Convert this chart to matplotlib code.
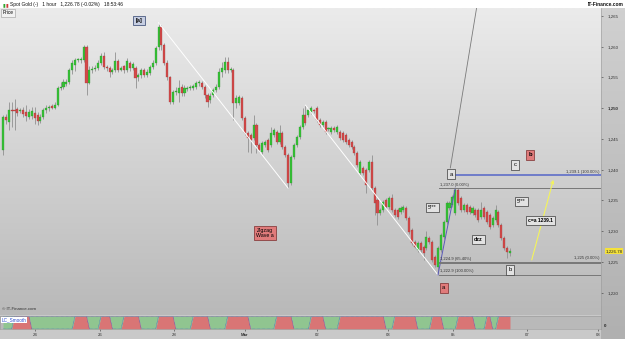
import matplotlib.pyplot as plt
import numpy as np
from matplotlib.colors import LinearSegmentedColormap
from matplotlib.patches import Rectangle

plt.rcParams['font.family'] = ['Liberation Sans', 'DejaVu Sans']

# Data: hourly Spot Gold candles
opens = [1243.2, 1248.6, 1247.8, 1249.7, 1249.6, 1249.8, 1249.6, 1249.7, 1249.4, 1248.6,
         1248.8, 1249.2, 1248.9, 1248.0, 1248.6, 1249.7, 1250.0, 1250.4, 1250.1, 1250.5,
         1253.3, 1253.5, 1254.0, 1254.3, 1256.2, 1257.0, 1257.8, 1257.8, 1257.8, 1260.0,
         1254.1, 1256.2, 1256.4, 1256.5, 1257.4, 1258.5, 1256.7, 1256.5, 1255.9, 1256.2,
         1257.7, 1256.2, 1256.8, 1256.2, 1257.4, 1256.5, 1256.5, 1255.1, 1255.4, 1256.2,
         1255.4, 1255.7, 1256.7, 1257.4, 1260.0, 1263.2, 1260.3, 1257.4, 1255.1, 1251.0,
         1252.6, 1252.5, 1253.5, 1252.5, 1253.1, 1253.3, 1253.3, 1253.5, 1254.1, 1254.1,
         1253.5, 1252.2, 1251.3, 1252.2, 1253.0, 1253.5, 1255.9, 1256.2, 1257.5, 1256.2,
         1256.2, 1250.9, 1250.9, 1251.7, 1248.4, 1246.0, 1245.7, 1245.2, 1247.3, 1244.0,
         1242.9, 1244.0, 1244.8, 1244.0, 1245.7, 1246.1, 1244.5, 1246.0, 1243.7, 1242.4,
         1237.9, 1242.1, 1244.0, 1245.3, 1247.0, 1248.9, 1248.9, 1249.4, 1249.6, 1250.0,
         1248.1, 1247.3, 1247.8, 1246.6, 1246.1, 1246.8, 1246.1, 1246.1, 1246.0, 1245.7,
         1244.8, 1244.5, 1243.7, 1242.7, 1239.5, 1240.3, 1240.0, 1240.0, 1241.3, 1237.0,
         1235.1, 1233.0, 1233.5, 1235.1, 1233.9, 1235.4, 1233.5, 1233.5, 1233.1, 1233.5,
         1233.8, 1232.2, 1230.2, 1228.3, 1227.0, 1228.1, 1227.5, 1227.3, 1228.9, 1228.3,
         1225.8, 1224.2, 1227.0, 1229.1, 1231.5, 1233.8, 1234.3, 1233.0, 1236.7, 1235.4,
         1233.5, 1234.3, 1233.9, 1233.0, 1233.5, 1233.5, 1232.3, 1233.8, 1233.1, 1232.6,
         1231.0, 1231.8, 1233.1, 1231.0, 1228.9, 1227.3, 1226.5]
closes = [1248.6, 1248.1, 1249.7, 1249.6, 1249.5, 1249.3, 1249.7, 1249.0, 1248.8, 1249.4,
          1249.6, 1248.4, 1248.0, 1248.6, 1249.7, 1250.0, 1250.2, 1250.1, 1250.5, 1253.3,
          1253.5, 1254.3, 1254.3, 1256.2, 1257.4, 1257.8, 1257.9, 1258.0, 1260.0, 1254.1,
          1256.2, 1256.4, 1256.6, 1257.4, 1258.5, 1256.7, 1256.5, 1255.9, 1256.2, 1257.7,
          1256.2, 1256.5, 1256.2, 1257.7, 1256.5, 1257.2, 1254.9, 1255.4, 1256.2, 1255.4,
          1255.9, 1256.7, 1257.4, 1259.8, 1263.2, 1260.3, 1257.4, 1255.1, 1251.0, 1252.6,
          1252.8, 1253.3, 1252.5, 1253.3, 1253.2, 1253.4, 1253.6, 1254.1, 1254.2, 1253.5,
          1252.2, 1251.0, 1252.0, 1253.0, 1253.5, 1255.9, 1256.5, 1257.5, 1256.2, 1256.3,
          1250.9, 1251.7, 1251.8, 1248.4, 1246.0, 1245.2, 1244.8, 1247.3, 1244.0, 1243.2,
          1244.4, 1244.5, 1243.2, 1246.0, 1246.5, 1244.5, 1246.0, 1243.7, 1242.4, 1237.9,
          1242.1, 1244.0, 1245.3, 1247.0, 1248.9, 1247.6, 1249.7, 1250.0, 1249.5, 1248.1,
          1247.3, 1247.8, 1246.1, 1246.7, 1246.8, 1246.5, 1247.0, 1245.2, 1244.8, 1244.5,
          1244.0, 1243.7, 1242.7, 1240.8, 1241.3, 1239.5, 1237.5, 1241.3, 1237.0, 1234.6,
          1233.0, 1233.5, 1234.8, 1233.9, 1235.4, 1233.5, 1232.6, 1232.3, 1233.8, 1234.0,
          1232.2, 1229.9, 1228.1, 1227.5, 1228.1, 1227.0, 1226.5, 1229.1, 1228.3, 1225.3,
          1224.5, 1227.3, 1229.4, 1231.5, 1234.6, 1234.6, 1235.6, 1236.7, 1234.6, 1233.5,
          1234.3, 1233.1, 1233.1, 1233.8, 1232.6, 1231.8, 1233.5, 1232.3, 1231.5, 1230.7,
          1232.2, 1233.5, 1231.0, 1228.9, 1227.3, 1226.6, 1226.8]
highs = [1248.9, 1249.0, 1251.0, 1251.0, 1251.5, 1250.2, 1250.1, 1250.2, 1250.5, 1249.9,
         1250.2, 1250.2, 1249.4, 1249.0, 1250.1, 1250.5, 1250.6, 1250.7, 1251.0, 1253.6,
         1254.3, 1254.8, 1254.7, 1256.5, 1257.9, 1258.2, 1258.2, 1258.4, 1260.3, 1260.3,
         1256.9, 1256.8, 1257.0, 1257.8, 1259.0, 1259.2, 1257.0, 1256.8, 1256.6, 1259.1,
         1258.0, 1256.9, 1257.1, 1258.1, 1257.7, 1257.5, 1256.8, 1255.8, 1256.6, 1256.6,
         1256.3, 1257.0, 1257.8, 1260.1, 1263.9, 1263.5, 1260.6, 1257.8, 1255.3, 1252.9,
         1253.5, 1254.6, 1254.0, 1253.7, 1253.6, 1253.7, 1254.0, 1254.5, 1254.6, 1254.4,
         1253.8, 1252.5, 1252.4, 1253.3, 1253.9, 1256.6, 1257.5, 1258.3, 1258.3, 1256.7,
         1256.5, 1252.1, 1252.2, 1252.0, 1248.7, 1246.3, 1246.0, 1248.9, 1247.6, 1244.3,
         1244.7, 1244.9, 1245.1, 1247.0, 1246.8, 1246.4, 1247.3, 1246.3, 1244.0, 1242.7,
         1242.4, 1244.3, 1245.6, 1247.3, 1250.0, 1250.5, 1250.0, 1250.3, 1249.9, 1250.3,
         1248.4, 1248.1, 1248.1, 1247.0, 1247.1, 1247.1, 1247.3, 1246.4, 1246.3, 1246.0,
         1245.1, 1244.8, 1244.0, 1243.0, 1241.6, 1240.6, 1240.3, 1241.6, 1242.4, 1237.3,
         1235.4, 1233.8, 1235.1, 1235.4, 1235.7, 1236.0, 1233.8, 1233.8, 1234.1, 1234.3,
         1234.1, 1232.5, 1230.5, 1228.6, 1228.4, 1228.4, 1227.8, 1230.0, 1229.2, 1228.6,
         1226.1, 1227.6, 1229.7, 1231.8, 1234.9, 1234.9, 1235.9, 1237.0, 1237.0, 1235.7,
         1234.6, 1234.6, 1234.2, 1234.1, 1233.8, 1233.8, 1234.8, 1234.1, 1233.4, 1232.9,
         1232.5, 1234.3, 1233.4, 1231.3, 1229.2, 1227.6, 1227.3]
lows = [1242.4, 1247.4, 1246.5, 1247.0, 1246.5, 1248.8, 1249.2, 1248.6, 1248.0, 1248.2,
        1248.3, 1247.5, 1247.3, 1247.6, 1248.2, 1249.3, 1249.6, 1249.8, 1249.8, 1250.3,
        1253.0, 1253.2, 1253.6, 1254.0, 1255.5, 1256.0, 1257.5, 1257.4, 1257.5, 1252.2,
        1253.9, 1255.8, 1256.1, 1256.2, 1257.1, 1256.4, 1256.1, 1255.0, 1255.6, 1255.9,
        1255.9, 1256.0, 1255.8, 1255.9, 1256.1, 1256.2, 1253.3, 1254.5, 1254.9, 1255.0,
        1255.0, 1255.4, 1256.3, 1257.1, 1259.5, 1259.5, 1257.0, 1254.6, 1250.7, 1250.7,
        1252.2, 1251.0, 1252.0, 1252.0, 1252.8, 1253.0, 1253.0, 1253.2, 1253.6, 1253.2,
        1251.7, 1250.2, 1250.9, 1251.9, 1252.7, 1253.2, 1255.0, 1255.8, 1255.8, 1255.9,
        1248.1, 1250.0, 1250.5, 1248.1, 1245.6, 1242.9, 1242.7, 1244.9, 1242.7, 1242.9,
        1242.6, 1243.7, 1242.9, 1243.7, 1245.4, 1244.2, 1244.2, 1243.4, 1242.1, 1237.0,
        1237.6, 1241.8, 1243.7, 1245.0, 1246.7, 1247.3, 1248.6, 1249.1, 1249.2, 1247.8,
        1247.0, 1247.0, 1245.8, 1246.3, 1245.8, 1246.2, 1245.8, 1244.9, 1244.5, 1244.2,
        1243.7, 1243.4, 1242.4, 1240.5, 1239.2, 1239.2, 1236.2, 1239.7, 1236.7, 1232.6,
        1231.0, 1232.7, 1233.2, 1233.6, 1233.6, 1233.2, 1232.3, 1232.0, 1232.8, 1233.2,
        1231.9, 1229.6, 1227.8, 1227.2, 1226.7, 1226.7, 1225.3, 1227.0, 1228.0, 1225.0,
        1224.2, 1222.9, 1226.7, 1228.8, 1231.2, 1233.5, 1234.0, 1232.7, 1234.3, 1233.2,
        1233.2, 1232.8, 1232.8, 1232.7, 1232.3, 1231.5, 1232.0, 1232.0, 1231.2, 1230.4,
        1230.7, 1231.5, 1230.7, 1228.6, 1227.0, 1225.6, 1225.9]

# LC_Smooth indicator: alternating state runs (0 = green, 1 = red), first run is 0
smooth_runs = [4, 6, 15, 5, 4, 4, 4, 6, 6, 6, 6, 6, 6, 8, 9, 6, 6, 5, 5, 16,
               3, 8, 5, 4, 5, 6, 4, 2, 2, 5]

date_labels = ['24', '26', '28', 'Mar', '02', '03', '05', '07', '08']
date_ticks = [11.1, 33.7, 59.4, 84.0, 109.0, 133.7, 156.3, 182.0, 206.6]
price_ticks = [1220, 1225, 1230, 1235, 1240, 1245, 1250, 1255, 1260, 1265]
last_price = 1226.78

fib_prices = [1239.1, 1237.0, 1225.0, 1224.9, 1222.9]
fib_texts = ['1,239.1 (100.00%)', '1,237.0 (0.00%)', '1,225 (0.00%)',
             '1,224.9 (65.40%)', '1,222.9 (100.00%)']

# ---- figure ----
W, H = 625, 339
fig = plt.figure(figsize=(W / 100, H / 100), dpi=100, facecolor='#c9c9c9')


def fx(px):
    return px / W


def fy(py):
    return 1 - py / H


# right price panel
axp = fig.add_axes([fx(601), 0, fx(24), fy(8)])
panel_cmap = LinearSegmentedColormap.from_list('p', ['#d0d0d0', '#b0b0b0'])
axp.imshow(np.linspace(0, 1, 100)[:, None], cmap=panel_cmap, aspect='auto',
           extent=[0, 1, 0, 1], origin='upper')
axp.set_axis_off()

# main chart
ax = fig.add_axes([0, fy(315), fx(601), fy(8) - fy(315)])
bg_cmap = LinearSegmentedColormap.from_list('bg', ['#ebebeb', '#b9b9b9'])
ax.imshow(np.linspace(0, 1, 200)[:, None], cmap=bg_cmap, aspect='auto',
          extent=[0, 1, 0, 1], origin='upper', transform=ax.transAxes, zorder=0)

o = np.array(opens)
c = np.array(closes)
idx = np.arange(len(c))
up = c >= o
bottom = np.minimum(o, c)
height = np.maximum(np.abs(c - o), 0.15)

ax.vlines(idx, lows, highs, color='#909090', lw=0.6, zorder=2)
ax.bar(idx[up], height[up], 0.72, bottom=bottom[up], color='#36c236',
       edgecolor='#2a8f2a', lw=0.2, zorder=3)
ax.bar(idx[~up], height[~up], 0.72, bottom=bottom[~up], color='#d44a4a',
       edgecolor='#9a3434', lw=0.2, zorder=3)

ax.set_xlim(-1.04, 207.6)
ax.set_ylim(1216.38, 1266.3)

# wave lines
ax.plot([54, 99], [highs[54], lows[99]], color='white', lw=0.7, zorder=4)
ax.plot([105, 151], [highs[105], lows[151]], color='white', lw=0.7, zorder=4)
ax.plot([151, 157], [lows[151], highs[157]], color='#5a5ab8', lw=0.7, zorder=4)
ax.plot([155.3, 165.0], [1240.3, 1268.0], color='#7a7a7a', lw=0.6, zorder=4)

# fib lines
fib_start = [155.5, 151.5, 151.5, 151.5, 151.5]
for i, (p, t) in enumerate(zip(fib_prices, fib_texts)):
    if i == 0:
        ax.plot([fib_start[i], 207.6], [p, p], color='#5566c8', lw=1.1, zorder=4)
    else:
        ax.plot([fib_start[i], 207.6], [p, p], color='#777777', lw=0.7, zorder=4)
    if i in (0, 2):
        ax.text(207.2, p + 0.25, t, fontsize=3.0, ha='right', va='bottom', color='#333333', zorder=5)
    else:
        ax.text(fib_start[i] + 0.3, p + 0.25, t, fontsize=3.0, ha='left', va='bottom', color='#333333', zorder=5)

# yellow arrow
ax.annotate('', xy=(191.3, 1238.8), xytext=(183.3, 1224.9),
            arrowprops=dict(arrowstyle='->', color='#f4f45a', lw=0.8, mutation_scale=5), zorder=5)

# labels
white_box = dict(boxstyle='square,pad=0.4', fc='#e2e2e2', ec='#3a3a3a', lw=0.5)
red_box = dict(boxstyle='square,pad=0.4', fc='#e07b7b', ec='#7a2c2c', lw=0.5)
blue_box = dict(boxstyle='square,pad=0.4', fc='#c6cee2', ec='#4a5a80', lw=0.6)

ax.text(47.2, 1264.3, '[a]', fontsize=4.0, fontweight='bold', ha='center', va='center', bbox=blue_box, zorder=6)
ax.text(155.6, 1239.3, 'a', fontsize=4.2, ha='center', va='center', bbox=white_box, zorder=6)
ax.text(177.8, 1240.8, 'c', fontsize=4.2, ha='center', va='center', bbox=white_box, zorder=6)
ax.text(183.0, 1242.4, 'b', fontsize=4.2, fontweight='bold', ha='center', va='center', bbox=red_box, zorder=6)
ax.text(149.0, 1233.8, '5***', fontsize=3.6, ha='center', va='center', bbox=white_box, zorder=6)
ax.text(179.9, 1234.8, '5***', fontsize=3.6, ha='center', va='center', bbox=white_box, zorder=6)
ax.text(165.0, 1228.6, 'dzz', fontsize=3.8, fontweight='bold', ha='center', va='center', bbox=white_box, zorder=6)
ax.text(186.5, 1231.8, 'c=a 1239.1', fontsize=3.6, fontweight='bold', ha='center', va='center', bbox=white_box, zorder=6)
ax.text(176.0, 1223.7, 'b', fontsize=4.2, ha='center', va='center', bbox=white_box, zorder=6)
ax.text(153.0, 1220.8, 'a', fontsize=4.2, ha='center', va='center', bbox=red_box, zorder=6)
ax.text(91.0, 1229.7, 'Zigzag\nWave a', fontsize=3.8, ha='center', va='center',
        linespacing=1.1, bbox=red_box, zorder=6)

ax.text(0.004, 0.992, 'Price', transform=ax.transAxes, fontsize=3.4, ha='left', va='top',
        bbox=dict(boxstyle='square,pad=0.3', fc='#f2f2f2', ec='#9a9a9a', lw=0.4), zorder=6)
ax.text(0.004, 0.012, '© IT-Finance.com', transform=ax.transAxes, fontsize=3.2,
        ha='left', va='bottom', color='#333333', zorder=6)

# price axis
ax.yaxis.tick_right()
ax.set_yticks(price_ticks)
ax.set_yticklabels([f'{v:,}' for v in price_ticks])
ax.tick_params(axis='y', length=1.5, width=0.4, pad=3, labelsize=3.2, colors='#333333')
for lab in ax.get_yticklabels():
    if lab.get_text() == '1,250':
        lab.set_fontweight('bold')
ax.set_xticks([])
for s in ax.spines.values():
    s.set_visible(False)
ax.spines['right'].set_visible(True)
ax.spines['right'].set_color('#9a9a9a')
ax.spines['right'].set_linewidth(0.4)

ax.annotate(f'{last_price:,.2f}', xy=(1.0, last_price), xycoords=('axes fraction', 'data'),
            xytext=(3, 0), textcoords='offset points', fontsize=3.2, va='center', ha='left',
            color='#222222', bbox=dict(boxstyle='square,pad=0.15', fc='#f5e23a', ec='none'),
            zorder=7, annotation_clip=False)

# LC_Smooth indicator panel
ax2 = fig.add_axes([0, fy(329), fx(601), fy(316) - fy(329)])
ax2.set_facecolor('#b9b9b9')
states = np.tile([0, 1], len(smooth_runs) // 2 + 1)[:len(smooth_runs)]
v = np.repeat(states, smooth_runs)
ix = np.arange(len(v))
ax2.fill_between(ix, 0, v, color='#d97575', lw=0)
ax2.fill_between(ix, v, 1, color='#90c590', lw=0)
ax2.plot(ix, v, ls=(0, (1, 1)), color='#3a5ad0', lw=0.45)
ax2.plot(ix, np.ones(len(v)), ls=(0, (1, 1)), color='#3a5ad0', lw=0.45)
ax2.set_xlim(-1.04, 207.6)
ax2.set_ylim(0, 1)
ax2.set_yticks([])
ax2.set_xticks(date_ticks)
ax2.set_xticklabels(date_labels)
ax2.tick_params(axis='x', length=1.5, width=0.4, pad=1.5, labelsize=3.1, colors='#333333')
for lab in ax2.get_xticklabels():
    if lab.get_text() == 'Mar':
        lab.set_fontweight('bold')
for s in ax2.spines.values():
    s.set_color('#9a9a9a')
    s.set_linewidth(0.4)
ax2.text(0.003, 0.88, 'LC_Smooth', transform=ax2.transAxes, fontsize=3.3, color='#2a4ad0',
         ha='left', va='top', bbox=dict(boxstyle='square,pad=0.15', fc='white', ec='none'))
ax2.text(1.005, 0.2, '0', transform=ax2.transAxes, fontsize=3.2, fontweight='bold',
         ha='left', va='center', color='#222222')

# header strip
fig.add_artist(Rectangle((0, fy(8)), 1, 1 - fy(8), transform=fig.transFigure,
                         fc='white', ec='none', zorder=-1))
fig.text(fx(3), fy(4.5), '▮', fontsize=3.5, color='#2fa52f', va='center', ha='left')
fig.text(fx(5.5), fy(4.5), '▮', fontsize=3.5, color='#cc3a3a', va='center', ha='left')
fig.text(fx(10), fy(4.5), 'Spot Gold (-)   1 hour   1,226.78 (-0.02%)   18:53:46',
         fontsize=3.5, va='center', ha='left', color='#111111')
fig.text(fx(623), fy(4.5), 'IT-Finance.com', fontsize=3.5, fontweight='bold',
         va='center', ha='right', color='#111111')

fig.savefig('out.png', dpi=100, facecolor=fig.get_facecolor())
